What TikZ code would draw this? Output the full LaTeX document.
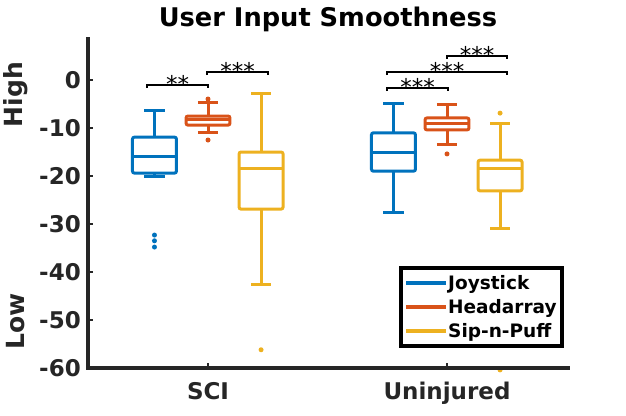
\documentclass[tikz,border=0pt]{standalone}
\usepackage{fontspec}
\setmainfont{DejaVu Sans}
\definecolor{joy}{RGB}{0,114,189}
\definecolor{head}{RGB}{217,83,25}
\definecolor{sip}{RGB}{237,177,32}
\definecolor{axgray}{RGB}{38,38,38}

\begin{document}
\begin{tikzpicture}[x=1pt, y=-1pt,
    ticklabel/.style={text=axgray, font=\fontsize{23}{23}\selectfont\bfseries, inner sep=0pt},
    axlabel/.style={text=axgray, font=\fontsize{25}{25}\selectfont\bfseries, inner sep=0pt, rotate=90},
    legtext/.style={font=\fontsize{18.5}{18.5}\selectfont\bfseries, inner sep=0pt, anchor=base west},
    stars/.style={font=\fontsize{23}{23}\selectfont, inner sep=0pt, anchor=base},
    boxline/.style={line width=3pt},
    sigbar/.style={line width=2pt, black},
    legline/.style={line width=4pt}]
    \useasboundingbox (0,0) rectangle (626,415);

    \node[font=\fontsize{25.7}{25.7}\selectfont\bfseries, inner sep=0pt, anchor=base] (title) at (328,27) {User Input Smoothness};

    % boxplots in data units
    \begin{scope}[shift={(-31,80)}, x=239pt, y=4.8pt]
        \foreach \p/\lo/\qa/\md/\qb/\hi/\c in {
            0.776/-20/-19.4/-16/-11.9/-6.25/joy,
            1/-11/-9.4/-8.2/-7.5/-4.6/head,
            1.222/-42.7/-26.9/-18.4/-15/-2.8/sip,
            1.776/-27.7/-19/-15.2/-11/-4.8/joy,
            2/-13.5/-10.4/-9.1/-7.9/-5.2/head,
            2.222/-31/-23.1/-18.5/-16.7/-9/sip}{
            \draw[boxline, \c] (\p,\lo) -- (\p,\qa) (\p,\qb) -- (\p,\hi)
                (\p-0.042,\lo) -- (\p+0.042,\lo) (\p-0.042,\hi) -- (\p+0.042,\hi)
                (\p-0.092,\md) -- (\p+0.092,\md);
            \draw[boxline, \c, rounded corners=2pt] (\p-0.092,\qa) rectangle (\p+0.092,\qb);
        }
        \foreach \p/\v/\c in {0.776/-32.3/joy, 0.776/-33.5/joy, 0.776/-34.8/joy,
            1/-12.5/head, 1/-3.96/head, 1.222/-56.2/sip,
            2/-15.4/head, 2.222/-6.9/sip, 2.222/-60.4/sip}
            \fill[\c] (\p,\v) circle (2.5pt);
    \end{scope}

    % axes
    \draw[axgray, line width=4pt] (88,37) -- (88,368) -- (570,368);
    \foreach \v [count=\i] in {0,-10,-20,-30,-40,-50,-60} {
        \draw[axgray, line width=2pt] (88,80-4.8*\v) -- (93,80-4.8*\v);
        \node[ticklabel, anchor=east] (ytick\i) at (81,80-4.8*\v) {\v};
    }
    \draw[axgray, line width=2pt] (208,368) -- (208,363) (447,368) -- (447,363);
    \node[ticklabel, anchor=base] (sci) at (208,399) {SCI};
    \node[ticklabel, anchor=base] (uninj) at (447,399) {Uninjured};
    \node[axlabel] (high) at (16,94.5) {High};
    \node[axlabel] (low) at (16,321) {Low};

    % significance
    \draw[sigbar] (147,88) -- (147,85) -- (208,85) -- (208,88);
    \node[stars] (s1) at (177.5,92.5) {**};
    \draw[sigbar] (207,75) -- (207,72) -- (268,72) -- (268,75);
    \node[stars] (s2) at (237.5,79.5) {***};
    \draw[sigbar] (387,91) -- (387,88) -- (448,88) -- (448,91);
    \node[stars] (s3) at (417.5,95.5) {***};
    \draw[sigbar] (387,75) -- (387,72) -- (507,72) -- (507,75);
    \node[stars] (s4) at (447,79.5) {***};
    \draw[sigbar] (447,59) -- (447,56) -- (507,56) -- (507,59);
    \node[stars] (s5) at (477,63.5) {***};

    % legend
    \draw[line width=4pt, black, fill=white] (401,268) rectangle (562,346);
    \draw[legline, joy] (406,283) -- (446,283);
    \node[legtext] (ljoy) at (448,289.5) {Joystick};
    \draw[legline, head] (406,307) -- (446,307);
    \node[legtext] (lhead) at (448,313.5) {Headarray};
    \draw[legline, sip] (406,331) -- (446,331);
    \node[legtext] (lsip) at (448,337.5) {Sip-n-Puff};
\end{tikzpicture}
\end{document}
